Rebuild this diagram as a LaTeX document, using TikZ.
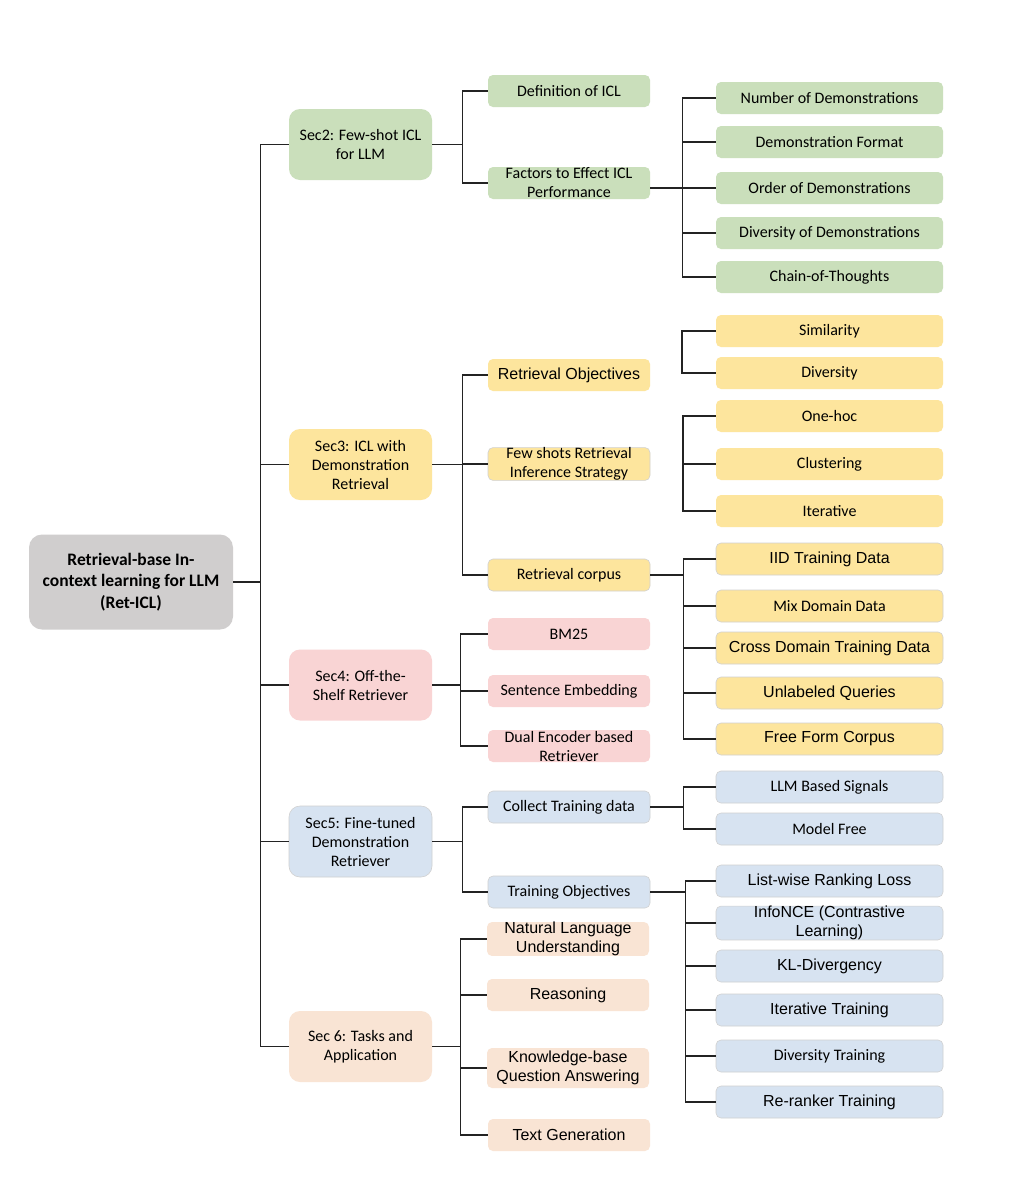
\documentclass[tikz,border=0pt]{standalone}
\usepackage{fontspec}
\newfontfamily\calf{Carlito}
\newfontfamily\arif{Liberation Sans}
\definecolor{cgreen}{RGB}{202,223,187}
\definecolor{cyellow}{RGB}{253,229,157}
\definecolor{cpink}{RGB}{249,212,212}
\definecolor{cblue}{RGB}{215,227,241}
\definecolor{cpeach}{RGB}{249,228,212}
\definecolor{cgray}{RGB}{208,206,206}
\definecolor{cline}{RGB}{35,35,35}
\begin{document}
\begin{tikzpicture}[x=1pt,y=-1pt,
  base/.style={inner sep=0pt, align=center, text=black, font=\calf\fontsize{16}{19}\selectfont},
  ar/.style={font=\arif\fontsize{16}{19}\selectfont},
  rootbox/.style={base, fill=cgray, rounded corners=13pt, minimum width=204pt, minimum height=95pt, font=\calf\bfseries\fontsize{17.5}{21.5}\selectfont},
  secbox/.style={base, rounded corners=11pt, minimum width=143pt, minimum height=71pt},
  lvtwo/.style={base, rounded corners=5pt, minimum width=162pt, minimum height=32pt},
  lvthree/.style={base, rounded corners=5pt, minimum width=227pt, minimum height=32pt},
  bd/.style={draw=black!18, line width=0.6pt},
  conn/.style={draw=cline, line width=1.4pt}
]
\useasboundingbox (0,0) rectangle (1033,1200);
\fill[white] (0,0) rectangle (1033,1200);

% root
\node[rootbox] (root) at (131,582) {Retrieval-base In-\\context learning for LLM\\(Ret-ICL)};

% sections
\node[secbox, fill=cgreen] (sec2) at (360.5,144.5) {Sec2: Few-shot ICL\\for LLM};
\node[secbox, fill=cyellow] (sec3) at (360.5,464.5) {Sec3: ICL with\\Demonstration\\Retrieval};
\node[secbox, fill=cpink] (sec4) at (360.5,685) {Sec4: Off-the-\\Shelf Retriever};
\node[secbox, fill=cblue, bd] (sec5) at (360.5,841.5) {Sec5: Fine-tuned\\Demonstration\\Retriever};
\node[secbox, fill=cpeach] (sec6) at (360.5,1046.5) {Sec 6: Tasks and\\Application};

% level 2
\node[lvtwo, fill=cgreen] (def) at (569,91) {Definition of ICL};
\node[lvtwo, fill=cgreen] (fac) at (569,183) {Factors to Effect ICL\\Performance};
\node[lvtwo, fill=cyellow, ar] (robj) at (569,375) {Retrieval Objectives};
\node[lvtwo, fill=cyellow, bd] (fs) at (569,464) {Few shots Retrieval\\Inference Strategy};
\node[lvtwo, fill=cyellow, bd] (rc) at (569,575) {Retrieval corpus};
\node[lvtwo, fill=cpink] (bm) at (569,634) {BM25};
\node[lvtwo, fill=cpink] (se) at (569,691) {Sentence Embedding};
\node[lvtwo, fill=cpink] (de) at (569,746) {Dual Encoder based\\Retriever};
\node[lvtwo, fill=cblue, bd] (ct) at (569,807) {Collect Training data};
\node[lvtwo, fill=cblue, bd] (to) at (569,892) {Training Objectives};
\node[lvtwo, fill=cpeach, ar] (nlu) at (568,939) {Natural Language\\Understanding};
\node[lvtwo, fill=cpeach, ar] (rea) at (568,995) {Reasoning};
\node[lvtwo, fill=cpeach, ar, minimum height=40pt] (kb) at (568,1068) {Knowledge-base\\Question Answering};
\node[lvtwo, fill=cpeach, ar] (tg) at (569,1135) {Text Generation};

% level 3 - green
\node[lvthree, fill=cgreen] (nd) at (829.5,98) {Number of Demonstrations};
\node[lvthree, fill=cgreen] (df) at (829.5,142) {Demonstration Format};
\node[lvthree, fill=cgreen] (od) at (829.5,188) {Order of Demonstrations};
\node[lvthree, fill=cgreen] (dd) at (829.5,233) {Diversity of Demonstrations};
\node[lvthree, fill=cgreen] (cot) at (829.5,277) {Chain-of-Thoughts};
% level 3 - yellow
\node[lvthree, fill=cyellow] (sim) at (829.5,331) {Similarity};
\node[lvthree, fill=cyellow] (div) at (829.5,373) {Diversity};
\node[lvthree, fill=cyellow] (oh) at (829.5,416) {One-hoc};
\node[lvthree, fill=cyellow] (cl) at (829.5,464) {Clustering};
\node[lvthree, fill=cyellow] (it) at (829.5,511) {Iterative};
\node[lvthree, fill=cyellow, bd, ar] (iid) at (829.5,559) {IID Training Data};
\node[lvthree, fill=cyellow, bd] (mix) at (829.5,606) {Mix Domain Data};
\node[lvthree, fill=cyellow, bd, ar] (cross) at (829.5,648) {Cross Domain Training Data};
\node[lvthree, fill=cyellow, bd, ar] (unl) at (829.5,693) {Unlabeled Queries};
\node[lvthree, fill=cyellow, bd, ar] (ff) at (829.5,739) {Free Form Corpus};
% level 3 - blue
\node[lvthree, fill=cblue, bd] (llm) at (829.5,787) {LLM Based Signals};
\node[lvthree, fill=cblue, bd] (mf) at (829.5,829) {Model Free};
\node[lvthree, fill=cblue, bd, ar] (lw) at (829.5,881) {List-wise Ranking Loss};
\node[lvthree, fill=cblue, bd, ar] (info) at (829.5,923) {InfoNCE (Contrastive\\Learning)};
\node[lvthree, fill=cblue, bd, ar] (kl) at (829.5,966) {KL-Divergency};
\node[lvthree, fill=cblue, bd, ar] (itt) at (829.5,1010) {Iterative Training};
\node[lvthree, fill=cblue, bd] (divt) at (829.5,1056) {Diversity Training};
\node[lvthree, fill=cblue, bd, ar] (rr) at (829.5,1102) {Re-ranker Training};

% connectors: root
\foreach \s in {sec2,sec3,sec4,sec5,sec6}
  \draw[conn] (root.east) -- ++(27,0) |- (\s.west);

% sec2
\foreach \c in {def,fac}
  \draw[conn] (sec2.east) -- ++(30,0) |- (\c.west);
\foreach \c in {nd,df,od,dd,cot}
  \draw[conn] ([yshift=-5pt]fac.east) -- ++(32,0) |- (\c.west);

% sec3
\foreach \c in {robj,fs,rc}
  \draw[conn] (sec3.east) -- ++(30,0) |- (\c.west);
\draw[conn] (sim.west) -- ++(-34,0) |- (div.west);
\draw[conn] (oh.west) -- ++(-33,0) |- (it.west);
\draw[conn] (cl.west) -- ++(-33,0);
\foreach \c in {iid,mix,cross,unl,ff}
  \draw[conn] (rc.east) -- ++(33,0) |- (\c.west);

% sec4
\foreach \c in {bm,se,de}
  \draw[conn] (sec4.east) -- ++(28,0) |- (\c.west);

% sec5
\foreach \c in {ct,to}
  \draw[conn] (sec5.east) -- ++(30,0) |- (\c.west);
\foreach \c in {llm,mf}
  \draw[conn] (ct.east) -- ++(33,0) |- (\c.west);
\foreach \c in {lw,info,kl,itt,divt,rr}
  \draw[conn] (to.east) -- ++(35,0) |- (\c.west);

% sec6
\foreach \c in {nlu,rea,kb,tg}
  \draw[conn] (sec6.east) -- ++(28,0) |- (\c.west);
\end{tikzpicture}
\end{document}
